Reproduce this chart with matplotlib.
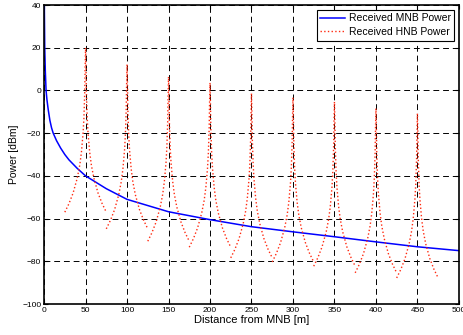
import numpy as np
import matplotlib.pyplot as plt

plt.rcParams['font.family'] = ['Liberation Sans', 'DejaVu Sans']

# received power from the macro node (MNB)
mnb_dist = [0.3, 0.8, 1.5, 2.4, 3.5, 5, 7, 9, 11, 15, 20, 25, 30, 40, 50, 75, 100,
            150, 200, 250, 300, 350, 400, 450, 500]
mnb_power = [40, 20, 9, 0, -4.5, -9, -14, -17.5, -20, -23.5, -27, -30, -32.5,
             -36.5, -40, -46, -51, -56.8, -60.5, -63.8, -66.2, -68.5, -70.9,
             -73.2, -75]

# home nodes (HNB) positions and peak power
hnb_pos = [50, 100, 150, 200, 250, 300, 350, 400, 450]
hnb_peak = [20, 12.2, 6.4, 3.6, -1.4, -3.3, -5.3, -8.4, -10.8]

# spike shape around each HNB: offset [m] and drop from peak [dB]
spike_offset = [-25, -20, -15, -10, -7, -5, -3, -2, -1, -0.5, 0,
                0.5, 1, 2, 3, 5, 7, 10, 15, 20, 25]
spike_drop = [77, 73, 68, 61, 55, 49, 40, 33, 21, 9, 0,
              9, 21, 33, 40, 49, 55, 61, 68, 73, 77]

fig = plt.figure(figsize=(4.64, 3.35), dpi=100)
ax = fig.add_axes([0.095, 0.0925, 0.894, 0.8925])

ax.plot(mnb_dist, mnb_power, color='blue', lw=1.1, label='Received MNB Power')
for i, (p, pk) in enumerate(zip(hnb_pos, hnb_peak)):
    x = p + np.array(spike_offset)
    y = pk - np.array(spike_drop)
    ax.plot(x, y, color='#ff2a10', ls=':', lw=1.0,
            label='Received HNB Power' if i == 0 else None)

ax.set_xlim(0, 500)
ax.set_ylim(-100, 40)
ax.set_xticks(np.arange(0, 501, 50))
ax.set_yticks(np.arange(-100, 41, 20))
ax.grid(True, color='black', ls=(0, (6, 4)), lw=0.7)
ax.tick_params(direction='in', labelsize=6, length=3, width=0.8, pad=2,
               top=True, right=True)
for s in ax.spines.values():
    s.set_linewidth(1.2)

ax.set_xlabel('Distance from MNB [m]', fontsize=8, labelpad=1)
ax.set_ylabel('Power [dBm]', fontsize=7.5, labelpad=2)

leg = ax.legend(loc='upper right', fontsize=7.5, fancybox=False, framealpha=1,
                edgecolor='black', borderaxespad=0.45, handlelength=2.4,
                handletextpad=0.3, borderpad=0.35, labelspacing=0.35)
leg.get_frame().set_linewidth(0.8)

fig.savefig('out.png', dpi=100)
